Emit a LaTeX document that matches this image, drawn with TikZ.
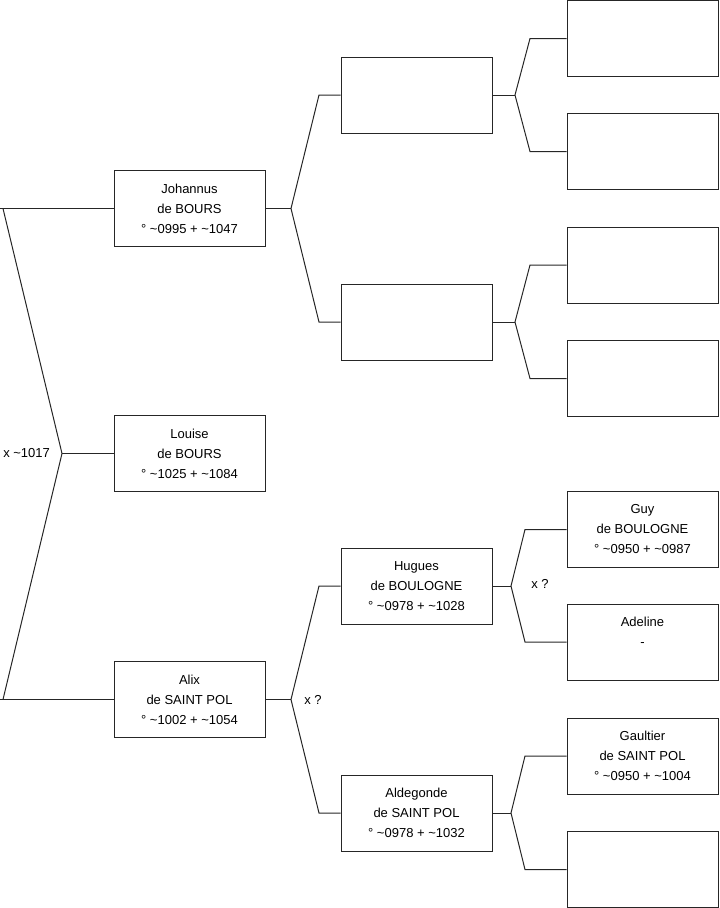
\documentclass[tikz,border=0pt]{standalone}
\usepackage{fontspec}
\setmainfont{Liberation Sans}
\newcommand{\tl}{\textasciitilde}
\begin{document}
\begin{tikzpicture}[x=0.75pt,y=-0.75pt,
  box/.style={draw=black!85, line width=0.75pt, rectangle, minimum width=113.25pt, minimum height=57pt, inner sep=0pt, align=center, font=\fontsize{9.75}{15}\selectfont, fill=white},
  conn/.style={draw=black!85, line width=0.75pt},
  lbl/.style={font=\fontsize{9.75}{15}\selectfont, inner sep=0pt}]
\useasboundingbox (0,0) rectangle (719,908);
% generation 1
\node[box] (johannus) at (189.5,208.5) {Johannus\\de BOURS\\° \tl0995 + \tl1047};
\node[box] (louise) at (189.5,453.5) {Louise\\de BOURS\\° \tl1025 + \tl1084};
\node[box] (alix) at (189.5,699.5) {Alix\\de SAINT POL\\° \tl1002 + \tl1054};
% generation 2
\node[box] (pA) at (416.5,95) {};
\node[box] (pB) at (416.5,322) {};
\node[box] (hugues) at (416.5,586) {Hugues\\de BOULOGNE\\° \tl0978 + \tl1028};
\node[box] (aldegonde) at (416.5,813) {Aldegonde\\de SAINT POL\\° \tl0978 + \tl1032};
% generation 3
\node[box] (g1) at (642.5,38.5) {};
\node[box] (g2) at (642.5,151.5) {};
\node[box] (g3) at (642.5,265) {};
\node[box] (g4) at (642.5,378.5) {};
\node[box] (guy) at (642.5,529.5) {Guy\\de BOULOGNE\\° \tl0950 + \tl0987};
\node[box] (adeline) at (642.5,642) {Adeline\\-\\\mbox{}};
\node[box] (gaultier) at (642.5,756) {Gaultier\\de SAINT POL\\° \tl0950 + \tl1004};
\node[box] (g8) at (642.5,869.5) {};
% root connector
\coordinate (r0) at (0,208.5);
\coordinate (r1) at (3,208.5);
\coordinate (ra) at (62,453.5);
\coordinate (r2) at (3,699.5);
\coordinate (r3) at (0,699.5);
\draw[conn] (r0) -- (johannus.west);
\draw[conn] (r1) -- (ra) -- (r2);
\draw[conn] (r3) -- (alix.west);
\draw[conn] (ra) -- (louise.west);
\node[lbl, anchor=west] (m0) at (3,453.5) {x \tl1017};
% Johannus parents
\coordinate (ja) at (291,208.5);
\coordinate (j1) at (319,95);
\coordinate (j2) at (319,322);
\draw[conn] (johannus.east) -- (ja);
\draw[conn] (pA.west) -- (j1) -- (ja) -- (j2) -- (pB.west);
% Alix parents
\coordinate (aa) at (291,699.5);
\coordinate (a1) at (319,586);
\coordinate (a2) at (319,813);
\draw[conn] (alix.east) -- (aa);
\draw[conn] (hugues.west) -- (a1) -- (aa) -- (a2) -- (aldegonde.west);
\node[lbl, anchor=west] (m1) at (304,699.5) {x ?};
% pA parents
\coordinate (pa) at (515,95);
\coordinate (pa1) at (530,38.5);
\coordinate (pa2) at (530,151.5);
\draw[conn] (pA.east) -- (pa);
\draw[conn] (g1.west) -- (pa1) -- (pa) -- (pa2) -- (g2.west);
% pB parents
\coordinate (pb) at (515,322);
\coordinate (pb1) at (530,265);
\coordinate (pb2) at (530,378.5);
\draw[conn] (pB.east) -- (pb);
\draw[conn] (g3.west) -- (pb1) -- (pb) -- (pb2) -- (g4.west);
% Hugues parents
\coordinate (ha) at (511,586);
\coordinate (h1) at (525,529.5);
\coordinate (h2) at (525,642);
\draw[conn] (hugues.east) -- (ha);
\draw[conn] (guy.west) -- (h1) -- (ha) -- (h2) -- (adeline.west);
\node[lbl, anchor=west] (m2) at (531,584) {x ?};
% Aldegonde parents
\coordinate (da) at (511,813);
\coordinate (d1) at (525,756);
\coordinate (d2) at (525,869.5);
\draw[conn] (aldegonde.east) -- (da);
\draw[conn] (gaultier.west) -- (d1) -- (da) -- (d2) -- (g8.west);
\end{tikzpicture}
\end{document}
